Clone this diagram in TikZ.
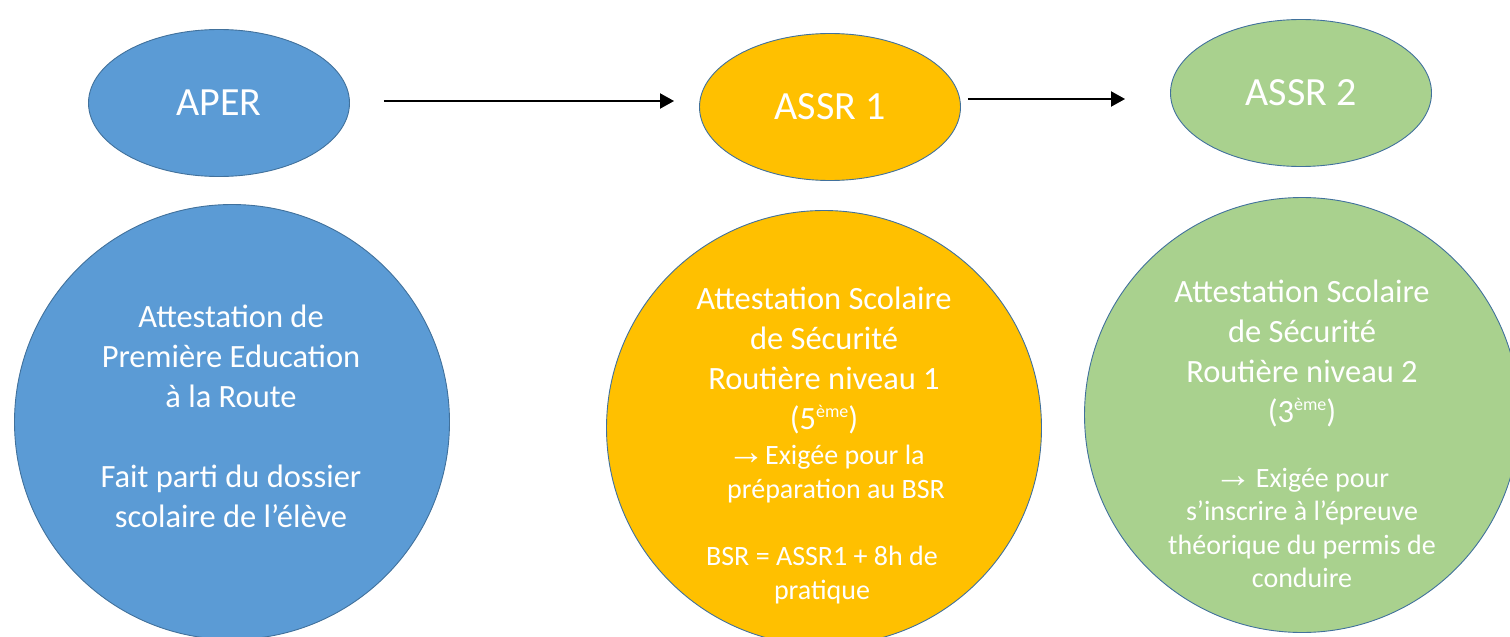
\documentclass[tikz,border=0pt]{standalone}
\usepackage{fontspec}
\setmainfont{Carlito}
\newfontfamily\arrowfont{Liberation Sans}
\usetikzlibrary{shapes.geometric,arrows.meta}
\definecolor{blueF}{HTML}{5B9BD5}
\definecolor{orangeF}{HTML}{FFC000}
\definecolor{greenF}{HTML}{A9D18E}
\definecolor{edgeC}{HTML}{41719C}
\newcommand\expo[1]{\raisebox{0.75ex}{\fontsize{18}{18}\selectfont #1}}
\newcommand\arw{{\arrowfont\fontsize{38}{33.5}\selectfont →}}
\begin{document}
\begin{tikzpicture}[x=1pt,y=-1pt,
  oval/.style={ellipse, draw=edgeC, line width=0.9pt, minimum width=261pt, minimum height=147pt, inner sep=0pt, text=white, font=\fontsize{40}{48}\selectfont},
  bigcirc/.style={circle, draw=edgeC, line width=0.9pt, minimum size=435pt, inner sep=0pt},
  bigtxt/.style={text=white, font=\fontsize{32.5}{40}\selectfont, align=center, inner sep=0pt},
  smalltxt/.style={text=white, font=\fontsize{28}{33.5}\selectfont, inner sep=0pt},
  arr/.style={-{Triangle[length=14pt,width=15pt]}, line width=2pt, black}]
\useasboundingbox (0,0) rectangle (1510,637);
\clip (0,0) rectangle (1510,637);
% top ovals
\node[oval, fill=blueF] (aper) at (219,103) {APER};
\node[oval, fill=orangeF] (assr1) at (830,107) {ASSR 1};
\node[oval, fill=greenF] (assr2) at (1301,93) {ASSR 2};
% arrows
\draw[arr, shorten <=34pt, shorten >=25pt] ([yshift=2pt]aper.east) -- ([yshift=2pt]aper.east -| assr1.west);
\draw[arr, shorten <=7pt, shorten >=45pt] ([yshift=8pt]assr1.east) -- ([yshift=8pt]assr1.east -| assr2.west);
% big circles
\node[bigcirc, fill=blueF] (c1) at (232,422) {};
\node[bigcirc, fill=orangeF] (c2) at (824,428) {};
\node[bigcirc, fill=greenF] (c3) at (1302,415) {};
% blue text
\node[bigtxt] (t1) at (231,416) {Attestation de\\Première Education\\à la Route\\[40pt]Fait parti du dossier\\scolaire de l’élève};
% orange text
\node[bigtxt] (t2a) at (824,360) {Attestation Scolaire\\de Sécurité\\Routière niveau 1\\(5\expo{ème})};
\node[smalltxt, align=left, anchor=west] (t2b) at (727,474) {\arw Exigée pour la\\préparation au BSR};
\node[smalltxt, align=center] (t2c) at (822,575) {BSR = ASSR1 + 8h de\\pratique};
% green text
\node[bigtxt] (t3a) at (1302,353) {Attestation Scolaire\\de Sécurité\\Routière niveau 2\\(3\expo{ème})};
\node[smalltxt, align=center] (t3b) at (1302,528) {\arw\kern3pt Exigée pour\\s’inscrire à l’épreuve\\théorique du permis de\\conduire};
\end{tikzpicture}
\end{document}
